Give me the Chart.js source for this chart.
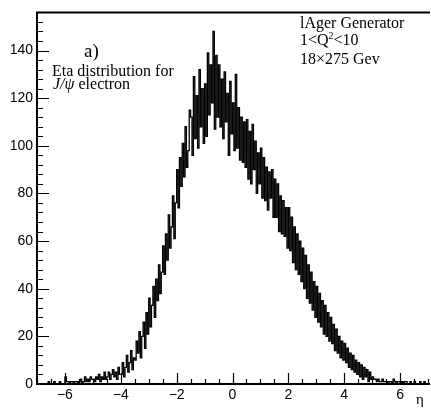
<!DOCTYPE html>
<html>
<head>
<meta charset="utf-8">
<script src="https://cdn.jsdelivr.net/npm/chart.js@4"></script>
<style>
  html, body { margin: 0; padding: 0; background: #fff; overflow: hidden; }
  canvas { display: block; }
</style>
</head>
<body>
<canvas id="etaChart" width="431" height="408"></canvas>
<script>
/* ── J/psi electron eta histogram (ROOT-style) ── */

// binning: left edge of first bin and bin width, in eta
const BIN_LO = -7;
const BIN_W = 0.05;

// counts per bin, -7 .. 7 in steps of 0.05
const COUNTS = [
  0, 0, 0, 0, 0, 0, 0, 0, 1, 0,            // -7.0 .. -6.5
  0, 0, 1, 0, 0, 0, 1, 0, 0, 0,            // -6.5 .. -6.0
  3, 1, 1, 0, 1, 1, 0, 1, 1, 0,            // -6.0 .. -5.5
  1, 2, 0, 1, 3, 1, 2, 1, 3, 2,            // -5.5 .. -5.0
  2, 1, 3, 2, 4, 1, 3, 2, 5, 2,            // -5.0 .. -4.5
  3, 5, 2, 4, 6, 3, 5, 2, 7, 4,            // -4.5 .. -4.0
  4, 9, 3, 7, 12, 5, 9, 14, 6, 11,         // -4.0 .. -3.5
  10, 18, 13, 22, 11, 20, 26, 15, 30, 21,  // -3.5 .. -3.0
  36, 24, 33, 41, 28, 44, 35, 50, 38, 47,  // -3.0 .. -2.5
  58, 46, 63, 52, 71, 57, 66, 79, 61, 76,  // -2.5 .. -2.0
  90, 74, 95, 83, 101, 87, 108, 91, 98, 115,          // -2.0 .. -1.5
  112, 96, 129, 103, 121, 99, 132, 108, 124, 101,     // -1.5 .. -1.0
  126, 104, 139, 113, 134, 118, 148, 107, 138, 112,   // -1.0 .. -0.5
  134, 108, 128, 103, 131, 110, 122, 96, 127, 105,    // -0.5 .. 0.0
  118, 98, 130, 99, 116, 94, 112, 93, 110, 91,        //  0.0 .. 0.5
  111, 86, 106, 84, 109, 90, 102, 80, 97, 84,         //  0.5 .. 1.0
  99, 78, 95, 77, 91, 73, 89, 78, 90, 70,  //  1.0 .. 1.5
  86, 70, 84, 64, 79, 63, 77, 62, 74, 57,  //  1.5 .. 2.0
  74, 56, 70, 51, 66, 48, 63, 46, 60, 43,  //  2.0 .. 2.5
  57, 40, 54, 36, 50, 34, 47, 31, 43, 28,  //  2.5 .. 3.0
  41, 26, 38, 24, 35, 21, 33, 20, 30, 18,  //  3.0 .. 3.5
  28, 17, 25, 14, 23, 13, 20, 11, 18, 10,  //  3.5 .. 4.0
  17, 9, 15, 7, 13, 6, 12, 5, 10, 4,       //  4.0 .. 4.5
  9, 3, 8, 2, 7, 3, 6, 1, 5, 2,            //  4.5 .. 5.0
  3, 2, 2, 1, 2, 1, 1, 2, 1, 1,            //  5.0 .. 5.5
  1, 0, 1, 1, 0, 2, 1, 0, 1, 1,            //  5.5 .. 6.0
  0, 1, 0, 1, 1, 0, 0, 1, 0, 0,            //  6.0 .. 6.5
  1, 0, 0, 0, 1, 0, 0, 1, 0, 0,            //  6.5 .. 7.0
];

const X_LABELS = [-6, -4, -2, 0, 2, 4, 6];
const Y_LABELS = [0, 20, 40, 60, 80, 100, 120, 140];

const X_MIN = -7, X_MAX = 7, X_MINOR = 0.5;
const Y_MIN = 0, Y_MAX = 156, Y_MINOR = 4;

// step points at each bin's left edge, plus the closing right edge
const points = COUNTS.map((c, i) => ({ x: BIN_LO + i * BIN_W, y: c }));
points.push({ x: BIN_LO + COUNTS.length * BIN_W, y: COUNTS[COUNTS.length - 1] });

// inward ticks, frame and the text boxes, done like ROOT draws them
const rootFrame = {
  id: 'rootFrame',
  afterDraw(chart) {
    const { ctx, chartArea: a, scales: { x, y } } = chart;
    ctx.save();
    ctx.strokeStyle = '#000';

    // frame: top, left, bottom
    ctx.lineWidth = 2;
    ctx.beginPath();
    ctx.moveTo(a.right + 2, a.top);
    ctx.lineTo(a.left, a.top);
    ctx.lineTo(a.left, a.bottom);
    ctx.lineTo(a.right + 2, a.bottom);
    ctx.stroke();

    ctx.lineWidth = 1.2;
    ctx.beginPath();
    for (const t of y.ticks) {
      const py = Math.round(y.getPixelForValue(t.value)) + 0.5;
      const len = Y_LABELS.includes(t.value) ? 12 : 6;
      ctx.moveTo(a.left, py);
      ctx.lineTo(a.left + len, py);
    }
    for (const t of x.ticks) {
      const px = Math.round(x.getPixelForValue(t.value)) + 0.5;
      const len = X_LABELS.includes(t.value) ? 11 : 5;
      ctx.moveTo(px, a.bottom);
      ctx.lineTo(px, a.bottom - len);
    }
    ctx.stroke();

    ctx.fillStyle = '#000';
    ctx.textBaseline = 'alphabetic';
    ctx.textAlign = 'left';

    ctx.font = '19px "Liberation Serif"';
    ctx.fillText('a)', 84, 57);

    ctx.font = '16px "Liberation Serif"';
    ctx.fillText('Eta distribution for', 52, 76);
    ctx.font = 'italic 16px "Liberation Serif"';
    ctx.fillText('J/ψ', 53, 89);
    const w = ctx.measureText('J/ψ').width;
    ctx.font = '16px "Liberation Serif"';
    ctx.fillText(' electron', 53 + w, 89);

    ctx.font = '16px "Liberation Serif"';
    ctx.fillText('lAger Generator', 300, 28);
    let px = 300;
    ctx.fillText('1<Q', px, 45);
    px += ctx.measureText('1<Q').width;
    ctx.font = '10px "Liberation Serif"';
    ctx.fillText('2', px, 39);
    px += ctx.measureText('2').width;
    ctx.font = '16px "Liberation Serif"';
    ctx.fillText('<10', px, 45);
    ctx.fillText('18×275 Gev', 300, 64);

    ctx.font = '15px "Liberation Serif"';
    ctx.fillText('η', 416, 404);
    ctx.restore();
  },
};

new Chart(document.getElementById('etaChart'), {
  type: 'line',
  data: {
    datasets: [{
      data: points,
      borderColor: '#000',
      borderWidth: 1.3,
      pointRadius: 0,
      fill: false,
      tension: 0,
      stepped: true,
    }],
  },
  options: {
    responsive: false,
    animation: false,
    devicePixelRatio: 1,
    layout: { padding: { top: 5, right: 1, left: 0, bottom: 0 } },
    plugins: { legend: { display: false }, tooltip: { enabled: false } },
    scales: {
      x: {
        type: 'linear',
        min: X_MIN,
        max: X_MAX,
        grid: { display: false, drawTicks: false },
        border: { display: false },
        ticks: {
          stepSize: X_MINOR,
          autoSkip: false,
          maxRotation: 0,
          padding: 3,
          color: '#000',
          font: { family: '"Liberation Sans"', size: 14 },
          callback: v => X_LABELS.includes(v) ? String(v).replace('-', '−') : '',
        },
        afterFit: s => { s.height = 24; },
      },
      y: {
        min: Y_MIN,
        max: Y_MAX,
        grid: { display: false, drawTicks: false },
        border: { display: false },
        ticks: {
          stepSize: Y_MINOR,
          autoSkip: false,
          padding: 4,
          color: '#000',
          font: { family: '"Liberation Sans"', size: 14 },
          callback: v => Y_LABELS.includes(v) ? String(v) : '',
        },
        afterFit: s => { s.width = 37; },
      },
    },
  },
  plugins: [rootFrame],
});
</script>
</body>
</html>
